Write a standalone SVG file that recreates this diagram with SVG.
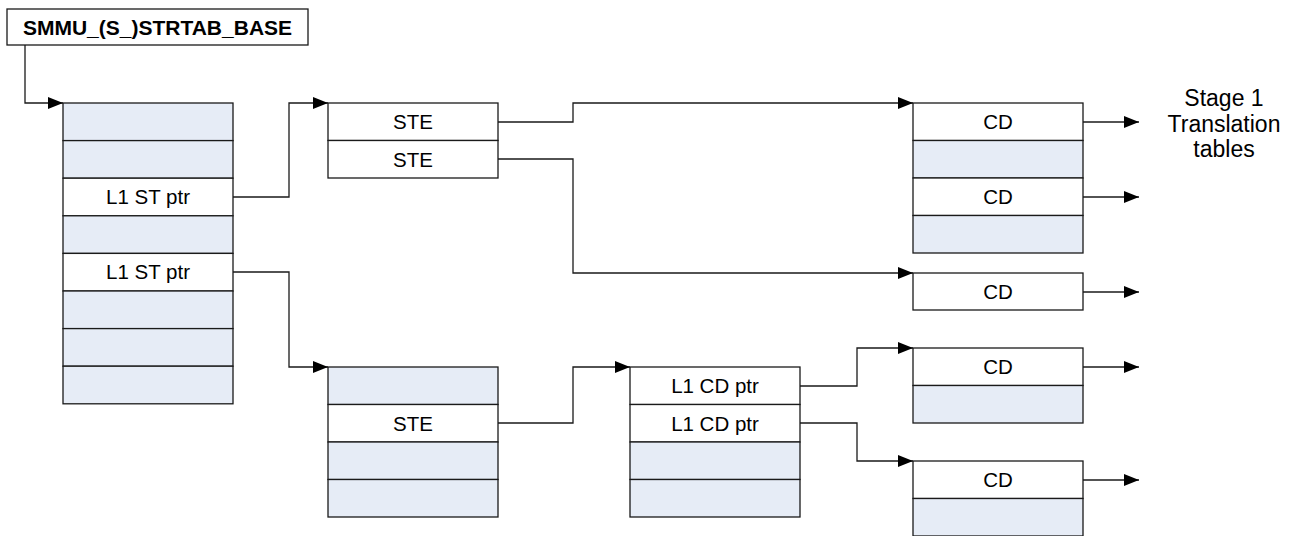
<svg xmlns="http://www.w3.org/2000/svg" width="1298" height="536" viewBox="0 0 1298 536">
<style>
.c{fill:#ffffff;stroke:#1a1a1a;stroke-width:1.3}
.b{fill:#E6ECF6;stroke:#1a1a1a;stroke-width:1.3}
.t{font-family:"Liberation Sans",Arial,sans-serif;font-size:20.5px;fill:#000;text-anchor:middle}
.h{font-family:"Liberation Sans",Arial,sans-serif;font-size:21px;font-weight:bold;fill:#000;text-anchor:middle}
.s{font-family:"Liberation Sans",Arial,sans-serif;font-size:23px;fill:#000;text-anchor:middle}
.k{fill:none;stroke:#1a1a1a;stroke-width:1.3}
</style>
<defs>
<marker id="ah" markerUnits="userSpaceOnUse" markerWidth="16" markerHeight="13" refX="15" refY="6" orient="auto">
<path d="M0,0 L15,6 L0,12 z" fill="#000"/>
</marker>
</defs>

<g id="base">
<rect class="c" x="7" y="9" width="301" height="36"/>
<text class="h" x="157.5" y="34.5">SMMU_(S_)STRTAB_BASE</text>
</g>

<g id="l1-stream-table">
<rect class="b" x="63" y="103" width="170" height="37.6"/>
<rect class="b" x="63" y="140.6" width="170" height="37.6"/>
<rect class="c" x="63" y="178.2" width="170" height="37.6"/>
<rect class="b" x="63" y="215.8" width="170" height="37.6"/>
<rect class="c" x="63" y="253.4" width="170" height="37.6"/>
<rect class="b" x="63" y="291" width="170" height="37.6"/>
<rect class="b" x="63" y="328.6" width="170" height="37.6"/>
<rect class="b" x="63" y="366.2" width="170" height="37.6"/>
<text class="t" x="148" y="204">L1 ST ptr</text>
<text class="t" x="148" y="279">L1 ST ptr</text>
</g>

<g id="ste-table-1">
<rect class="c" x="328" y="103" width="170" height="37.5"/>
<rect class="c" x="328" y="140.5" width="170" height="37.5"/>
<text class="t" x="413" y="129">STE</text>
<text class="t" x="413" y="166.5">STE</text>
</g>

<g id="ste-table-2">
<rect class="b" x="328" y="367" width="170" height="37.5"/>
<rect class="c" x="328" y="404.5" width="170" height="37.5"/>
<rect class="b" x="328" y="442" width="170" height="37.5"/>
<rect class="b" x="328" y="479.5" width="170" height="37.5"/>
<text class="t" x="413" y="430.5">STE</text>
</g>

<g id="l1-cd-table">
<rect class="c" x="630" y="367" width="170" height="37.5"/>
<rect class="c" x="630" y="404.5" width="170" height="37.5"/>
<rect class="b" x="630" y="442" width="170" height="37.5"/>
<rect class="b" x="630" y="479.5" width="170" height="37.5"/>
<text class="t" x="715" y="393">L1 CD ptr</text>
<text class="t" x="715" y="430.5">L1 CD ptr</text>
</g>

<g id="cd-table-1">
<rect class="c" x="913" y="103" width="170" height="37.5"/>
<rect class="b" x="913" y="140.5" width="170" height="37.5"/>
<rect class="c" x="913" y="178" width="170" height="37.5"/>
<rect class="b" x="913" y="215.5" width="170" height="37.5"/>
<text class="t" x="998" y="129">CD</text>
<text class="t" x="998" y="204">CD</text>
</g>

<g id="cd-table-2">
<rect class="c" x="913" y="273" width="170" height="37"/>
<text class="t" x="998" y="299">CD</text>
</g>

<g id="cd-table-3">
<rect class="c" x="913" y="348" width="170" height="37.5"/>
<rect class="b" x="913" y="385.5" width="170" height="37.5"/>
<text class="t" x="998" y="374">CD</text>
</g>

<g id="cd-table-4">
<rect class="c" x="913" y="461" width="170" height="37.5"/>
<rect class="b" x="913" y="498.5" width="170" height="37.5"/>
<text class="t" x="998" y="487">CD</text>
</g>

<g id="stage1-label">
<text class="s" x="1224" y="106">Stage 1</text>
<text class="s" x="1224" y="132">Translation</text>
<text class="s" x="1224" y="157">tables</text>
</g>

<g id="connectors">
<path class="k" d="M25,45 V103 H63" marker-end="url(#ah)"/>
<path class="k" d="M233,197 H289 V103 H328" marker-end="url(#ah)"/>
<path class="k" d="M233,272 H289 V367 H328" marker-end="url(#ah)"/>
<path class="k" d="M498,122 H573 V103 H913" marker-end="url(#ah)"/>
<path class="k" d="M498,159 H573 V273 H913" marker-end="url(#ah)"/>
<path class="k" d="M498,423 H573 V367 H630" marker-end="url(#ah)"/>
<path class="k" d="M800,386 H857 V348 H913" marker-end="url(#ah)"/>
<path class="k" d="M800,423 H857 V461 H913" marker-end="url(#ah)"/>
<path class="k" d="M1083,122 H1139" marker-end="url(#ah)"/>
<path class="k" d="M1083,197 H1139" marker-end="url(#ah)"/>
<path class="k" d="M1083,292 H1139" marker-end="url(#ah)"/>
<path class="k" d="M1083,367 H1139" marker-end="url(#ah)"/>
<path class="k" d="M1083,480 H1139" marker-end="url(#ah)"/>
</g>
</svg>
